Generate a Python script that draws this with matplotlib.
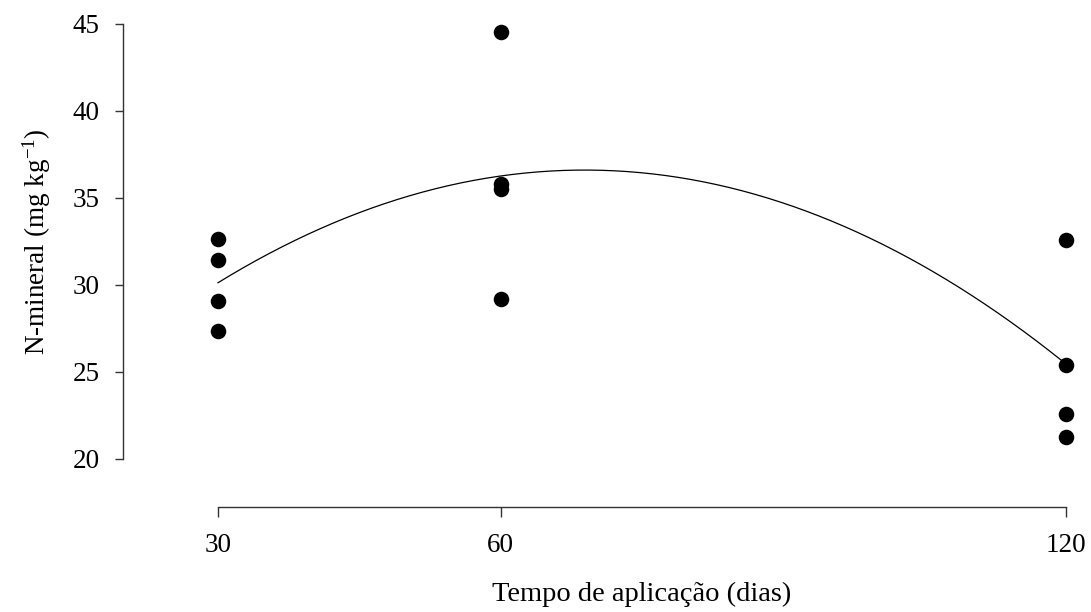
import numpy as np
import matplotlib
matplotlib.use("Agg")
import matplotlib.pyplot as plt

plt.rcParams['font.family'] = ['Liberation Serif', 'DejaVu Serif']
plt.rcParams['mathtext.fontset'] = 'custom'
plt.rcParams['mathtext.rm'] = 'Liberation Serif'
plt.rcParams['mathtext.it'] = 'Liberation Serif:italic'

# dados
dias = [30, 30, 30, 30, 60, 60, 60, 60, 120, 120, 120, 120]
n_mineral = [32.64, 31.44, 29.08, 27.36,
             44.54, 35.80, 35.52, 29.20,
             32.59, 25.40, 22.59, 21.26]
x_ticks = [30, 60, 120]
y_ticks = [20, 25, 30, 35, 40, 45]

# ajuste quadratico
coef = np.polyfit(dias, n_mineral, 2)
xs = np.linspace(30, 120, 200)
ys = np.polyval(coef, xs)

fig = plt.figure(figsize=(10.91, 6.12), dpi=100)
ax = fig.add_axes([218/1091, 1 - 459/612, (1066 - 218)/1091, (459 - 24)/612])

ax.plot(xs, ys, color='black', lw=0.9, clip_on=False)
ax.scatter(dias, n_mineral, s=125, color='black', zorder=3, clip_on=False, linewidths=0)

ax.set_xlim(30, 120)
ax.set_ylim(20, 45)
ax.set_xticks(x_ticks)
ax.set_yticks(y_ticks)

for s in ['top', 'right']:
    ax.spines[s].set_visible(False)
ax.spines['left'].set_position(('outward', 68.4))
ax.spines['bottom'].set_position(('outward', 34.6))
for s in ['left', 'bottom']:
    ax.spines[s].set_color('#333333')
    ax.spines[s].set_linewidth(1.0)

ax.tick_params(axis='y', length=6, width=1.0, color='#333333', pad=11, labelsize=19.5)
ax.tick_params(axis='x', length=7, width=1.0, color='#333333', pad=12, labelsize=19.5)

ax.set_ylabel('N-mineral (mg kg$^{-1}$)', fontsize=19.5, labelpad=14)
ax.set_xlabel('Tempo de aplicação (dias)', fontsize=20.5, labelpad=17)

fig.savefig('out.png', dpi=100)
